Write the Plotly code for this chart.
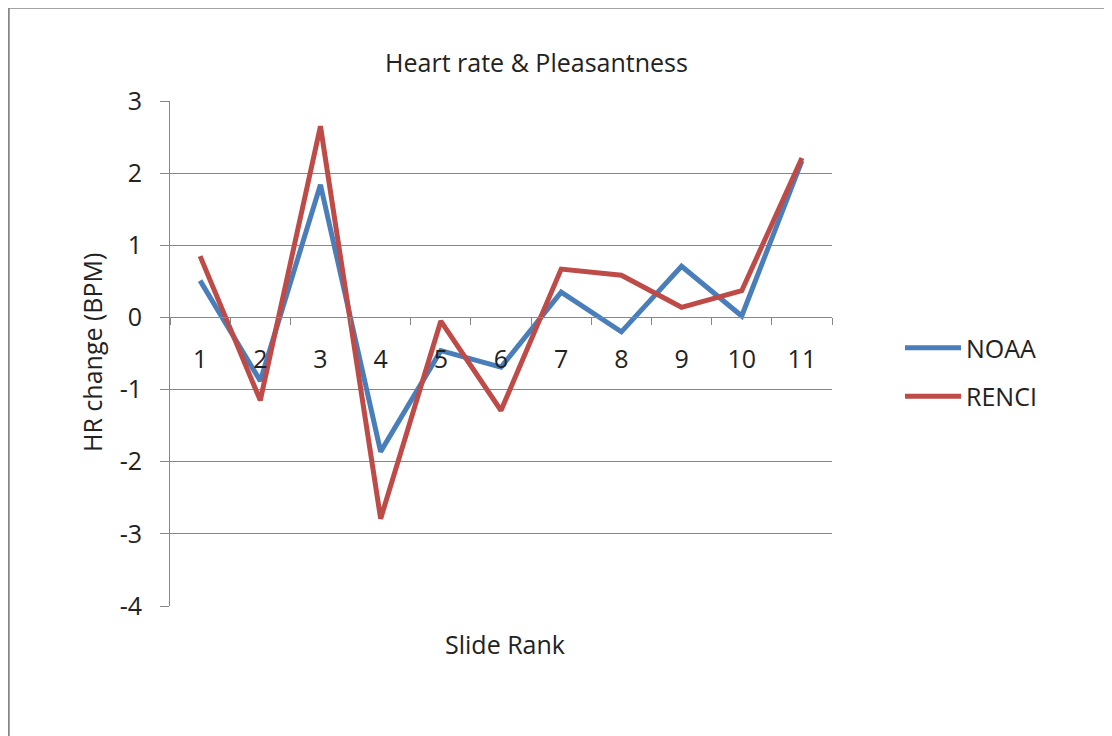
import plotly.graph_objects as go

categories = ["1", "2", "3", "4", "5", "6", "7", "8", "9", "10", "11"]
noaa = [0.51, -0.88, 1.84, -1.86, -0.46, -0.69, 0.35, -0.20, 0.71, 0.02, 2.17]
renci = [0.85, -1.15, 2.65, -2.79, -0.05, -1.29, 0.67, 0.585, 0.14, 0.37, 2.21]
series_names = ["NOAA", "RENCI"]
y_ticks = [3, 2, 1, 0, -1, -2, -3, -4]

W, H = 1112, 736
OFF = 8  # page body margin
FONT = "Open Sans"
FS = 25
GRID = "#878787"


def fx(px):
    return (px - OFF) / W


def fy(py):
    return 1 - (py - OFF) / H


x_dom = [fx(170), fx(832)]
y_dom = [fy(606), fy(101)]
ymin, ymax = -4, 3
zero_pos = y_dom[0] + (0 - ymin) / (ymax - ymin) * (y_dom[1] - y_dom[0])

fig = go.Figure()
fig.add_trace(go.Scatter(x=categories, y=noaa, mode="lines", name=series_names[0],
                         line=dict(color="#4A7EBB", width=5), legendgroup="a"))
fig.add_trace(go.Scatter(x=categories, y=renci, mode="lines", name=series_names[1],
                         line=dict(color="#BE4B48", width=5), legendgroup="b"))

fig.update_layout(
    width=W, height=H,
    margin=dict(l=0, r=0, t=0, b=0, autoexpand=False),
    paper_bgcolor="white", plot_bgcolor="white",
    font=dict(family=FONT, size=FS, color="#222222"),
    title=dict(text="Heart rate & Pleasantness", x=fx(536.5), xanchor="center",
               y=fy(63), yanchor="middle", font=dict(size=FS, family=FONT)),
    xaxis=dict(type="category", domain=x_dom, anchor="free", position=zero_pos,
               categoryorder="array", categoryarray=categories,
               range=[-0.5, len(categories) - 0.5],
               tickson="boundaries", ticks="outside", ticklen=7, tickcolor=GRID,
               showline=True, linecolor=GRID, linewidth=1, showgrid=False,
               ticklabelstandoff=20, tickfont=dict(size=FS)),
    yaxis=dict(domain=y_dom, anchor="x", range=[ymin, ymax], tickvals=y_ticks,
               ticktext=[str(v) for v in y_ticks],
               ticks="outside", ticklen=9, tickcolor=GRID,
               showline=True, linecolor=GRID, linewidth=1,
               showgrid=True, gridcolor=GRID, gridwidth=1,
               zeroline=True, zerolinecolor=GRID, zerolinewidth=1,
               ticklabelstandoff=13, tickfont=dict(size=FS)),
    legend=dict(x=fx(900), y=fy(325), xanchor="left", yanchor="top",
                font=dict(size=FS), itemwidth=56, tracegroupgap=13,
                bgcolor="rgba(0,0,0,0)"),
    showlegend=True,
)

fig.add_annotation(text="HR change (BPM)", xref="paper", yref="paper",
                   x=fx(92), y=fy(353), xanchor="center", yanchor="middle",
                   textangle=-90, showarrow=False, font=dict(size=FS, family=FONT))

fig.add_annotation(text="Slide Rank", xref="paper", yref="paper",
                   x=fx(505), y=fy(644), xanchor="center", yanchor="middle",
                   showarrow=False, font=dict(size=FS, family=FONT))

fig.add_shape(type="rect", xref="paper", yref="paper",
              x0=fx(8.5), y0=-0.05, x1=1.05, y1=fy(7.5),
              line=dict(color="#868686", width=2.5), fillcolor="rgba(0,0,0,0)", layer="below")

fig.write_html("out.html")
